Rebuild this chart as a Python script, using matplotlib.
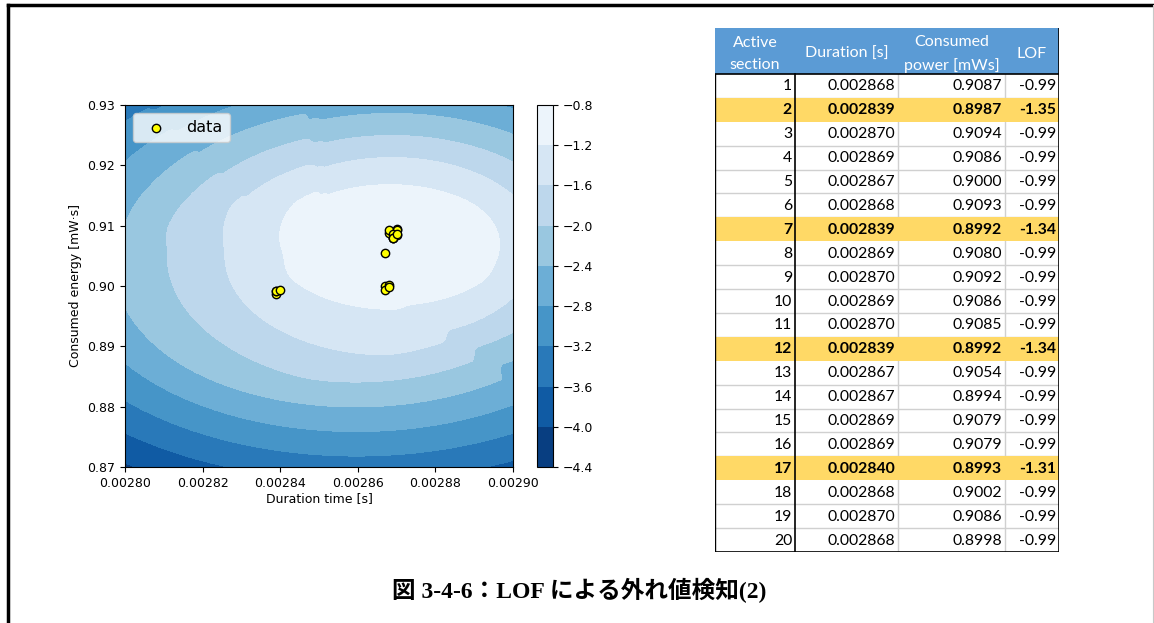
import numpy as np
import matplotlib
matplotlib.use("Agg")
import matplotlib.pyplot as plt
from matplotlib.patches import Rectangle
from matplotlib.lines import Line2D

# table / scatter data
section = list(range(1, 21))
duration = [0.002868, 0.002839, 0.002870, 0.002869, 0.002867, 0.002868, 0.002839,
            0.002869, 0.002870, 0.002869, 0.002870, 0.002839, 0.002867, 0.002867,
            0.002869, 0.002869, 0.002840, 0.002868, 0.002870, 0.002868]
power = [0.9087, 0.8987, 0.9094, 0.9086, 0.9000, 0.9093, 0.8992, 0.9080, 0.9092, 0.9086,
         0.9085, 0.8992, 0.9054, 0.8994, 0.9079, 0.9079, 0.8993, 0.9002, 0.9086, 0.8998]
lof = [-0.99, -1.35, -0.99, -0.99, -0.99, -0.99, -1.34, -0.99, -0.99, -0.99,
       -0.99, -1.34, -0.99, -0.99, -0.99, -0.99, -1.31, -0.99, -0.99, -0.99]
outlier_rows = [2, 7, 12, 17]

headers = ["Active\nsection", "Duration [s]", "Consumed\npower [mWs]", "LOF"]
levels = np.arange(-4.4, -0.79, 0.4)
n_neighbors = 15
caption = "図 3-4-6：LOF による外れ値検知(2)"


# LOF score field (same idea as sklearn LocalOutlierFactor(novelty=True).score_samples)
def lof_field(X, Q, k):
    D = np.sqrt(((X[:, None, :] - X[None, :, :]) ** 2).sum(-1))
    np.fill_diagonal(D, np.inf)
    idx = np.argsort(D, axis=1)[:, :k]
    dk = np.take_along_axis(D, idx, axis=1)
    kdist = dk[:, -1]
    reach = np.maximum(dk, kdist[idx])
    lrd = 1.0 / (reach.mean(1) + 1e-10)

    Dq = np.sqrt(((Q[:, None, :] - X[None, :, :]) ** 2).sum(-1))
    qidx = np.argsort(Dq, axis=1)[:, :k]
    dq = np.take_along_axis(Dq, qidx, axis=1)
    rq = np.maximum(dq, kdist[qidx])
    lrd_q = 1.0 / (rq.mean(1) + 1e-10)
    return -(lrd[qidx] / lrd_q[:, None]).mean(1)


X = np.column_stack([duration, power])
mu, sd = X.mean(0), X.std(0)
Xs = (X - mu) / sd
gx, gy = np.meshgrid(np.linspace(0.00280, 0.00290, 100), np.linspace(0.87, 0.93, 100))
Q = (np.column_stack([gx.ravel(), gy.ravel()]) - mu) / sd
Z = lof_field(Xs, Q, n_neighbors).reshape(gx.shape)
Z = np.clip(Z, levels[0] + 1e-6, levels[-1] - 1e-6)

fig = plt.figure(figsize=(11.54, 6.23), dpi=100)

# contour plot
ax = fig.add_axes([0.1083, 0.2504, 0.3362, 0.5811])
cs = ax.contourf(gx, gy, Z, levels=levels, cmap="Blues_r")
ax.scatter(duration, power, s=36, c="yellow", edgecolors="black", linewidths=1, label="data", zorder=3)
ax.set_xlim(0.00280, 0.00290)
ax.set_ylim(0.87, 0.93)
xt = np.arange(0.00280, 0.002901, 0.00002)
yt = np.arange(0.87, 0.9301, 0.01)
ax.set_xticks(xt)
ax.set_xticklabels(["%.5f" % v for v in xt])
ax.set_yticks(yt)
ax.set_yticklabels(["%.2f" % v for v in yt])
ax.tick_params(labelsize=9)
ax.set_xlabel("Duration time [s]", fontsize=9, labelpad=2)
ax.set_ylabel("Consumed energy [mW·s]", fontsize=9)
ax.legend(loc="upper left", fontsize=11.5, handletextpad=0.9, borderpad=0.45)

cax = fig.add_axes([0.4653, 0.2504, 0.0139, 0.5811])
cb = fig.colorbar(cs, cax=cax)
cb.set_ticks(levels)
cb.ax.set_yticklabels(["\u2212%.1f" % abs(v) for v in levels])
cb.ax.tick_params(labelsize=9)

# table
tax = fig.add_axes([0.6196, 0.1140, 0.2981, 0.8411])
tax.set_xlim(0, 344)
tax.set_ylim(524, 0)
tax.axis("off")
edges = [0, 80, 183, 290, 344]
head_h = 46
row_h = (524 - head_h) / len(section)
tfont = "Lato"

tax.add_patch(Rectangle((0, 0), 344, head_h, color="#5B9BD5", lw=0))
for c, h in enumerate(headers):
    tax.text((edges[c] + edges[c + 1]) / 2, head_h / 2 + 3, h, ha="center", va="center",
             color="white", fontsize=11.5, family=tfont, linespacing=1.75)

for r in range(len(section)):
    y0 = head_h + r * row_h
    if section[r] in outlier_rows:
        tax.add_patch(Rectangle((0, y0), 344, row_h, color="#FFD966", lw=0, zorder=2))
        wt = "bold"
    else:
        wt = "normal"
        tax.add_line(Line2D([0, 344], [y0 + row_h, y0 + row_h], color="#D0D0D0", lw=1, zorder=1))
    vals = [str(section[r]), "%.6f" % duration[r], "%.4f" % power[r], "%.2f" % lof[r]]
    for c, v in enumerate(vals):
        tax.text(edges[c + 1] - 3, y0 + row_h / 2 + 0.5, v, ha="right", va="center",
                 fontsize=11.3, family=tfont, weight=wt, zorder=3)

for e in edges[2:4]:
    tax.add_line(Line2D([e, e], [head_h, 524], color="#D0D0D0", lw=1, zorder=1))
tax.add_line(Line2D([edges[1], edges[1]], [head_h, 524], color="black", lw=1.2, zorder=4))
tax.add_line(Line2D([0, 344], [head_h, head_h], color="black", lw=1.2, zorder=4))
tax.add_line(Line2D([0, 344], [524, 524], color="black", lw=1.2, zorder=4))
tax.add_line(Line2D([0, 0], [head_h, 524], color="black", lw=1, zorder=4))
tax.add_line(Line2D([344, 344], [0, 524], color="black", lw=1.2, zorder=4))

# caption and page frame
fig.text(0.502, 0.053, caption, ha="center", va="center", fontsize=17, weight="bold",
         family=["Liberation Serif", "Noto Sans CJK JP"])
fig.add_artist(Line2D([0.0065, 1.0], [0.992, 0.992], color="black", lw=2.5))
fig.add_artist(Line2D([0.0065, 0.0065], [0.0, 0.992], color="black", lw=2.5))
fig.add_artist(Line2D([0.9993, 0.9993], [0.0, 0.992], color="#C8C8C8", lw=0.8))

fig.savefig("out.png", dpi=100)
